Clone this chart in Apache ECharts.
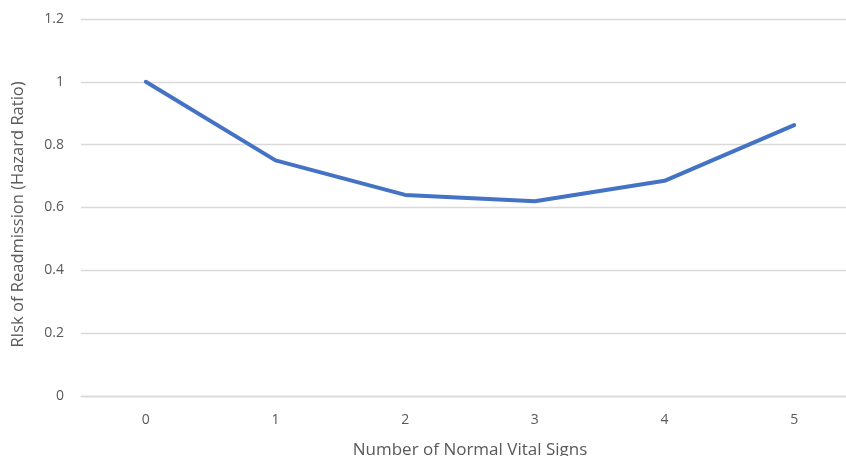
<!DOCTYPE html>
<html>
<head>
<meta charset="utf-8">
<script src="https://cdn.jsdelivr.net/npm/echarts@6/dist/echarts.min.js"></script>
<style>html,body{margin:0;padding:0;background:#fff;}#c{width:846px;height:456px;}</style>
</head>
<body>
<div id="c"></div>
<script>
const categories = ['0', '1', '2', '3', '4', '5'];
const hazardRatio = [1.0, 0.75, 0.64, 0.62, 0.685, 0.862];
const yTicks = [0, 0.2, 0.4, 0.6, 0.8, 1, 1.2];

const chart = echarts.init(document.getElementById('c'), null, {renderer: 'canvas'});
const font = '"Open Sans", "Noto Sans", sans-serif';
chart.setOption({
  animation: false,
  backgroundColor: '#ffffff',
  grid: {left: 81, right: -13, top: 19, bottom: 60, containLabel: false, outerBoundsMode: 'none'},
  xAxis: {
    type: 'category',
    data: categories,
    boundaryGap: true,
    name: 'Number of Normal Vital Signs',
    nameLocation: 'middle',
    nameGap: 46,
    nameTextStyle: {color: '#595959', fontSize: 17, fontFamily: font},
    axisLine: {show: true, lineStyle: {color: '#d9d9d9', width: 1.3}},
    axisTick: {show: false},
    axisLabel: {color: '#595959', fontSize: 14, fontFamily: font, margin: 17},
    splitLine: {show: false}
  },
  yAxis: {
    type: 'value',
    min: yTicks[0],
    max: yTicks[yTicks.length - 1],
    interval: 0.2,
    name: 'RIsk of Readmission (Hazard Ratio)',
    nameLocation: 'middle',
    nameGap: 54,
    nameTextStyle: {color: '#595959', fontSize: 16.5, fontFamily: font, padding: [0, 14, 0, 0]},
    axisLine: {show: false},
    axisTick: {show: false},
    axisLabel: {
      color: '#595959', fontSize: 14, fontFamily: font, margin: 17,
      formatter: v => String(Math.round(v * 10) / 10)
    },
    splitLine: {show: true, lineStyle: {color: '#d9d9d9', width: 1.3}}
  },
  series: [{
    type: 'line',
    data: hazardRatio,
    symbol: 'none',
    lineStyle: {color: '#4472c4', width: 4, cap: 'round', join: 'round'},
    itemStyle: {color: '#4472c4'}
  }]
});
</script>
</body>
</html>
